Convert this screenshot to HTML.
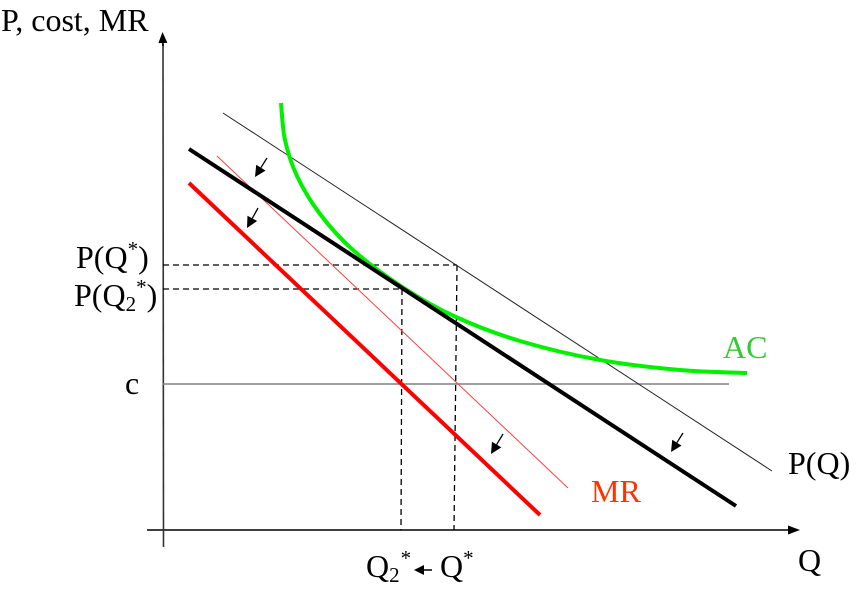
<!DOCTYPE html>
<html>
<head>
<meta charset="utf-8">
<style>
html,body{margin:0;padding:0;background:#fff;width:868px;height:590px;overflow:hidden}
svg{display:block}
text{font-family:"Liberation Serif",serif;font-size:32px;fill:#000}
</style>
</head>
<body>
<svg id="chart" width="868" height="590" viewBox="0 0 868 590" xmlns="http://www.w3.org/2000/svg">
<text x="1" y="31">P, cost, MR</text>
<text x="798" y="571">Q</text>
<text x="76" y="268">P(Q<tspan dy="-12" font-size="21">*</tspan><tspan dy="12">)</tspan></text>
<text x="74" y="306">P(Q<tspan dy="5" font-size="21">2</tspan><tspan dy="-17" font-size="21">*</tspan><tspan dy="12">)</tspan></text>
<text x="125" y="394">c</text>
<text x="366" y="577">Q<tspan dy="5" font-size="21">2</tspan><tspan dx="1" dy="-17" font-size="21">*</tspan></text>
<text x="440" y="577">Q<tspan dy="-12" font-size="21">*</tspan></text>
<text x="723" y="358" style="fill:#33cc33">AC</text>
<text x="591" y="502" style="fill:#ff3300">MR</text>
<text x="788" y="474">P(Q)</text>
</svg>
<script>
// Horizontal unit: quantity; vertical unit: price (both)
const demandQ = [6.0, 60.9];
const demandP = [41.7, 5.9];
const demand2Q = [2.6, 57.3];
const demand2P = [38.1, 2.4];
const mrQ = [5.4, 40.5];
const mrP = [37.4, 4.2];
const mr2Q = [2.6, 37.7];
const mr2P = [34.7, 1.5];
const acQ = [11.8, 12.2, 13.4, 15.7, 19.0, 24.0, 29.3, 35.7, 43.7, 51.7, 58.4];
const acP = [42.7, 39.0, 35.4, 31.6, 28.0, 24.25, 21.3, 18.9, 17.0, 16.0, 15.7];
const costC = 14.6;
const costEndQ = 56.6;
const qStar = 29.4;
const qStarBase = 29.1;
const q2Star = 23.9;
const q2StarBase = 23.8;
const pStar = 26.5;
const p2Star = 24.1;

const SVGNS = 'http://www.w3.org/2000/svg';
const svg = document.getElementById('chart');
function xAxis(q) { return 163 + q * 10; }
function yAxis(p) { return 530 - p * 10; }

function addLine(name, x1, y1, x2, y2, color, width, dash) {
  const el = document.createElementNS(SVGNS, 'line');
  
  
  el.setAttribute('x1', x1);
  el.setAttribute('y1', y1);
  el.setAttribute('x2', x2);
  el.setAttribute('y2', y2);
  el.setAttribute('stroke', color);
  el.setAttribute('stroke-width', width);
  if (dash) el.setAttribute('stroke-dasharray', dash);
  svg.appendChild(el);
}
function addArrow(name, x1, y1, x2, y2, width, headLen, headWid) {
  const dx = x2 - x1, dy = y2 - y1, len = Math.hypot(dx, dy);
  const ux = dx / len, uy = dy / len;
  const bx = x2 - ux * headLen, by = y2 - uy * headLen;
  addLine(name + '-shaft', x1, y1, bx, by, '#000', width);
  const head = document.createElementNS(SVGNS, 'polygon');
  
  
  head.setAttribute('points', x2 + ',' + y2 + ' ' + (bx - uy * headWid) + ',' + (by + ux * headWid) + ' ' + (bx + uy * headWid) + ',' + (by - ux * headWid));
  head.setAttribute('fill', '#000');
  svg.appendChild(head);
}
function addSeries(name, qs, ps, color, width) {
  addLine(name, xAxis(qs[0]), yAxis(ps[0]), xAxis(qs[1]), yAxis(ps[1]), color, width);
}

addLine('x-axis-line', 147, 530, 790, 530, '#000', 1.6);
addArrow('x-axis-arrow', 788, 530, 800, 530, 1.6, 12, 4.5);
addLine('y-axis-line', 163.5, 547, 163, 44, '#333', 1.6);
addArrow('y-axis-arrow', 163, 46, 162.5, 32, 1.6, 11, 4.5);

addLine('cost-line', xAxis(0), yAxis(costC), xAxis(costEndQ), yAxis(costC), '#808080', 1.6);
addLine('p-star-dash', xAxis(0), yAxis(pStar), xAxis(qStar), yAxis(pStar), '#000', 1.3, '6 4');
addLine('p2-star-dash', xAxis(0), yAxis(p2Star), xAxis(q2Star), yAxis(p2Star), '#000', 1.3, '6 4');
addLine('q-star-dash', xAxis(qStar), yAxis(pStar), xAxis(qStarBase), yAxis(0), '#000', 1.3, '6 4');
addLine('q2-star-dash', xAxis(q2Star), yAxis(p2Star), xAxis(q2StarBase), yAxis(0), '#000', 1.3, '6 4');

addSeries('demand-line-original', demandQ, demandP, '#222', 1);
addSeries('mr-line-original', mrQ, mrP, '#ff4040', 1);

const ac = document.createElementNS(SVGNS, 'path');


let d = 'M' + xAxis(acQ[0]) + ' ' + yAxis(acP[0]);
for (let i = 0; i < acQ.length - 1; i++) {
  const a = Math.max(i - 1, 0), b = i + 1, c = Math.min(i + 2, acQ.length - 1);
  const x0 = xAxis(acQ[a]), y0 = yAxis(acP[a]);
  const x1 = xAxis(acQ[i]), y1 = yAxis(acP[i]);
  const x2 = xAxis(acQ[b]), y2 = yAxis(acP[b]);
  const x3 = xAxis(acQ[c]), y3 = yAxis(acP[c]);
  d += ' C' + (x1 + (x2 - x0) / 6) + ' ' + (y1 + (y2 - y0) / 6) + ' ' + (x2 - (x3 - x1) / 6) + ' ' + (y2 - (y3 - y1) / 6) + ' ' + x2 + ' ' + y2;
}
ac.setAttribute('d', d);
ac.setAttribute('fill', 'none');
ac.setAttribute('stroke', '#00f000');
ac.setAttribute('stroke-width', 4);
svg.appendChild(ac);

addSeries('demand-line-shifted', demand2Q, demand2P, '#000', 4);
addSeries('mr-line-shifted', mr2Q, mr2P, '#ff0000', 4);

addArrow('shift-arrow-demand-top', 267, 158, 255, 177, 1.3, 11, 5.5);
addArrow('shift-arrow-mr-top', 258, 208, 247, 228, 1.3, 11, 5.5);
addArrow('shift-arrow-demand-bottom', 683, 433, 671, 452, 1.3, 11, 5.5);
addArrow('shift-arrow-mr-bottom', 503, 434, 491, 454, 1.3, 11, 5.5);
addArrow('q-shift-arrow', 432, 570, 414, 570, 1.5, 10, 5);
</script>
</body>
</html>
